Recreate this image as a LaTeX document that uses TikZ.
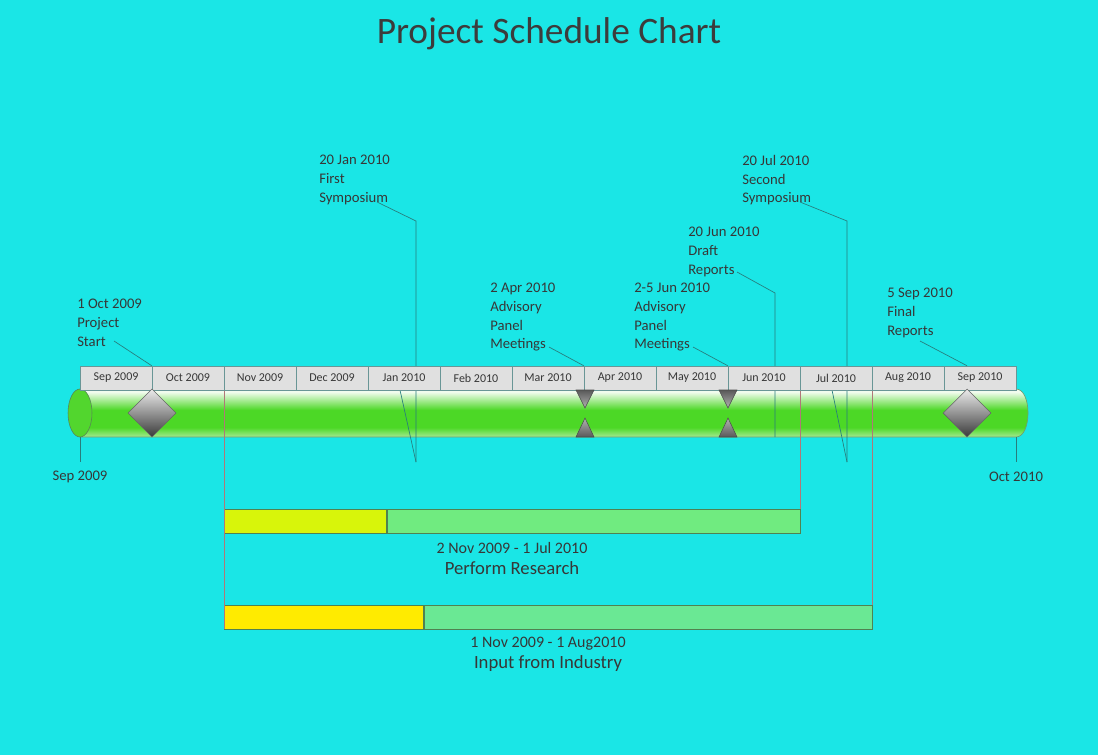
\documentclass[tikz,border=0pt]{standalone}
\usepackage{fontspec}
\setmainfont{Carlito}
\usetikzlibrary{positioning,shapes.geometric}

\definecolor{bgcyan}{RGB}{26,230,230}
\definecolor{txtgray}{RGB}{55,55,55}
\definecolor{titlegray}{RGB}{60,60,60}
\definecolor{cellgray}{RGB}{224,224,224}
\definecolor{cellline}{RGB}{105,150,150}
\definecolor{leader}{RGB}{40,125,125}
\definecolor{tubegreen}{RGB}{76,216,38}
\definecolor{tubetop}{RGB}{242,252,238}
\definecolor{tubebot}{RGB}{165,234,145}
\definecolor{tubeline}{RGB}{110,160,110}
\definecolor{tubeend}{RGB}{82,214,46}
\definecolor{taskline}{RGB}{176,120,120}
\definecolor{barline}{RGB}{80,130,80}
\definecolor{yellowA}{RGB}{216,245,10}
\definecolor{yellowB}{RGB}{255,235,0}
\definecolor{greenA}{RGB}{112,235,128}
\definecolor{greenB}{RGB}{106,232,148}

\pgfdeclareverticalshading{tube}{100bp}{color(0bp)=(tubebot); color(25bp)=(tubebot); color(35bp)=(tubegreen); color(53bp)=(tubegreen); color(72bp)=(tubetop); color(100bp)=(tubetop)}

\tikzset{
  month/.style={draw=cellline, fill=cellgray, minimum width=54pt, minimum height=18pt, inner sep=0pt, font=\fontsize{9}{10}\selectfont, text=txtgray},
  milestone/.style={align=left, anchor=north west, inner sep=0pt, font=\fontsize{11}{14}\selectfont, text=txtgray},
  leaderline/.style={draw=leader, line width=0.5pt},
  gem/.style={diamond, draw=gray!80!black, top color=gray!15, bottom color=gray!45!black, minimum width=36pt, minimum height=36pt, inner sep=0pt},
  taskbar/.style={draw=barline, minimum height=18pt, inner sep=0pt, anchor=west},
  datelbl/.style={font=\fontsize{12}{14}\selectfont, text=txtgray},
  tasklbl/.style={font=\fontsize{14}{16}\selectfont, text=txtgray}
}

\begin{document}
\begin{tikzpicture}[x=0.75pt, y=-0.75pt]
% background
\fill[bgcyan] (0,0) rectangle (1098,755);
\useasboundingbox (0,0) rectangle (1098,755);

\node[font=\fontsize{28}{32}\selectfont, text=titlegray] (title) at (549,34) {Project Schedule Chart};

% tube
\shadedraw[shading=tube, draw=tubeline, line width=0.5pt] (80,389) -- (1016,389) .. controls (1032,389) and (1032,437) .. (1016,437) -- (80,437) -- cycle;
\node[ellipse, draw=tubeline!80!black, fill=tubeend, minimum width=18pt, minimum height=36pt, inner sep=0pt] (tubeL) at (80,413) {};
\coordinate (tubeR) at (1016,437);

% leader kinks
\coordinate (fsA) at (377,202);
\coordinate (fsB) at (416,221);
\coordinate (fsC) at (416,462);
\coordinate (drA) at (737,272);
\coordinate (drB) at (775,293);
\coordinate (drC) at (775,437);
\coordinate (ssA) at (800,202);
\coordinate (ssB) at (847,221);
\coordinate (ssC) at (847,462);

% task bars
\node[taskbar, fill=yellowA, minimum width=121.5pt] (r1y) at (224,521) {};
\node[taskbar, fill=greenA, minimum width=310pt] (r1g) at (r1y.east) {};
\node[taskbar, fill=yellowB, minimum width=149.25pt] (r2y) at (224,617) {};
\node[taskbar, fill=greenB, minimum width=336.25pt] (r2g) at (r2y.east) {};

% vertical lines behind the header
\draw[leaderline] (fsA) -- (fsB) -- (fsC);
\draw[leaderline] (drA) -- (drB) -- (drC);
\draw[leaderline] (ssA) -- (ssB) -- (ssC);
\draw[leaderline] (400,390) -- (fsC);
\draw[leaderline] (832,390) -- (ssC);
\draw[taskline] (224,389) -- (r2y.south west);
\draw[taskline] (r1g.north east |- 0,389) -- (r1g.north east);
\draw[taskline] (r2g.north east |- 0,389) -- (r2g.north east);

% month header
\foreach \mon [count=\i from 0] in {Sep 2009,Oct 2009,Nov 2009,Dec 2009,Jan 2010,Feb 2010,Mar 2010,Apr 2010,May 2010,Jun 2010,Jul 2010,Aug 2010,Sep 2010}
  \node[month] (m\i) at ({116+72*\i},378) {\mon};

% milestones
\node[gem] (dStart) at (152,413) {};
\node[gem] (dFinal) at (967,413) {};
\foreach \x in {585,728} {
  \shadedraw[draw=gray!60!black, top color=gray!70!black, bottom color=gray!60] (\x-9,390) -- (\x+9,390) -- (\x,408) -- cycle;
  \shadedraw[draw=gray!60!black, top color=gray!60, bottom color=gray!70!black] (\x-9,437) -- (\x+9,437) -- (\x,418) -- cycle;
}

% labels
\node[milestone] (lStart) at (77,299) {1 Oct 2009\\Project\\Start};
\node[milestone] (lFirst) at (319,155) {20 Jan 2010\\First\\Symposium};
\node[milestone] (lApr) at (490,283) {2 Apr 2010\\Advisory\\Panel\\Meetings};
\node[milestone] (lJun) at (634,283) {2-5 Jun 2010\\Advisory\\Panel\\Meetings};
\node[milestone] (lDraft) at (688,227) {20 Jun 2010\\Draft\\Reports};
\node[milestone] (lSecond) at (742,155) {20 Jul 2010\\Second\\Symposium};
\node[milestone] (lFinal) at (887,288) {5 Sep 2010\\Final\\Reports};

\draw[leaderline] (114,341) -- (m1.north west);
\draw[leaderline] (549,347) -- (m7.north west);
\draw[leaderline] (693,347) -- (m9.north west);
\draw[leaderline] (920,341) -- (dFinal.north |- m12.north);

% ends
\node[milestone, anchor=center] (eStart) at (80,477) {Sep 2009};
\node[milestone, anchor=center] (eEnd) at (1016,477) {Oct 2010};
\draw[leaderline] (tubeL.south) -- (80,462);
\draw[leaderline] (tubeR) -- (1016,462);

% task labels
\node[datelbl] (t1d) at (512,548) {2 Nov 2009 - 1 Jul 2010};
\node[tasklbl] (t1n) at (512,568) {Perform Research};
\node[datelbl] (t2d) at (548,644) {1 Nov 2009 - 1 Aug2010};
\node[tasklbl] (t2n) at (548,664) {Input from Industry};
\end{tikzpicture}
\end{document}
